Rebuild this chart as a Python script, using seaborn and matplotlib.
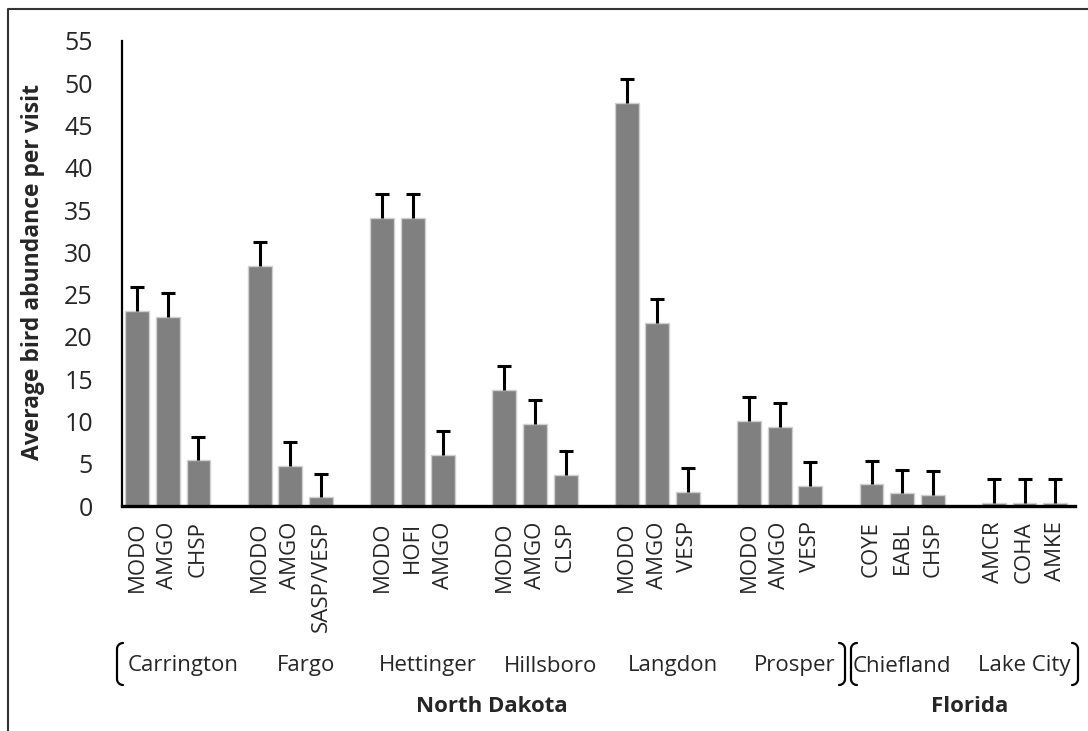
import numpy as np
import pandas as pd
import matplotlib
matplotlib.use("Agg")
import matplotlib.pyplot as plt
import seaborn as sns

# Data
sites = ["Carrington", "Fargo", "Hettinger", "Hillsboro", "Langdon", "Prosper",
         "Chiefland", "Lake City"]
states = ["North Dakota"] * 6 + ["Florida"] * 2
species = [["MODO", "AMGO", "CHSP"], ["MODO", "AMGO", "SASP/VESP"],
           ["MODO", "HOFI", "AMGO"], ["MODO", "AMGO", "CLSP"],
           ["MODO", "AMGO", "VESP"], ["MODO", "AMGO", "VESP"],
           ["COYE", "EABL", "CHSP"], ["AMCR", "COHA", "AMKE"]]
means = [[23.1, 22.4, 5.4], [28.4, 4.7, 1.1], [34.1, 34.1, 6.0],
         [13.7, 9.7, 3.7], [47.7, 21.7, 1.7], [10.1, 9.4, 2.4],
         [2.6, 1.5, 1.3], [0.4, 0.4, 0.4]]
errors = [[2.8, 2.8, 2.8], [2.8, 2.9, 2.7], [2.8, 2.8, 2.9],
          [2.9, 2.8, 2.8], [2.8, 2.8, 2.8], [2.8, 2.8, 2.8],
          [2.7, 2.8, 2.8], [2.8, 2.8, 2.8]]

# long table, one empty slot between sites
rows = []
for g, site in enumerate(sites):
    for j in range(3):
        rows.append({"site": site, "state": states[g], "species": species[g][j],
                     "pos": g * 4 + j, "mean": means[g][j], "err": errors[g][j]})
df = pd.DataFrame(rows)

sns.set_style("white")
plt.rcParams["font.family"] = ["Open Sans", "DejaVu Sans"]

W, H = 1088, 731
fig = plt.figure(figsize=(W / 100, H / 100), dpi=100)
ax = fig.add_axes([122 / W, 1 - 506 / H, (1075 - 122) / W, (506 - 41) / H])

sns.barplot(data=df, x="pos", y="mean", native_scale=True, color="#808080",
            saturation=1, width=0.78, errorbar=None, edgecolor="#d0d0d0",
            linewidth=1, ax=ax)

# upper error bars only
eb = ax.errorbar(df["pos"], df["mean"], yerr=[np.zeros(len(df)), df["err"]],
                 fmt="none", ecolor="black", elinewidth=2.2, capsize=5, capthick=2.2)
for cap in eb[1]:
    if np.allclose(cap.get_ydata(), df["mean"]):
        cap.set_visible(False)

ax.set_xlim(-0.5, 30.65)
ax.set_ylim(0, 55)
ax.set_yticks(range(0, 56, 5))
ax.tick_params(axis="y", length=0, pad=21, labelsize=18)
ax.set_xticks(df["pos"])
ax.set_xticklabels(df["species"], rotation=90, fontsize=16)
ax.tick_params(axis="x", length=0, pad=11)
ax.set_xlabel("")
ax.set_ylabel("")
for side in ["top", "right"]:
    ax.spines[side].set_visible(False)
ax.spines["left"].set_linewidth(1.6)
ax.spines["left"].set_color("black")
ax.spines["bottom"].set_linewidth(2.4)
ax.spines["bottom"].set_color("black")

fig.text(33 / W, 1 - 272 / H, "Average bird abundance per visit", rotation=90,
         ha="center", va="center", fontsize=16.5, fontweight="bold")

# site names under each group
trans = ax.get_xaxis_transform()
y_site = -(666 - 506) / (506 - 41)
for g, site in enumerate(sites):
    shift = 0.5 if states[g] == "North Dakota" else 0.0
    ax.text(g * 4 + 1 + shift, y_site, site, transform=trans, ha="center",
            va="center", fontsize=16, clip_on=False)

# state names
y_state = -(706 - 506) / (506 - 41)
ax.text(11.6, y_state, "North Dakota", transform=trans, ha="center", va="center",
        fontsize=16, fontweight="bold", clip_on=False)
ax.text(27.2, y_state, "Florida", transform=trans, ha="center", va="center",
        fontsize=16, fontweight="bold", clip_on=False)


# brackets around the site names
def bracket(xp, left=True, top=643, bottom=685, r=6):
    t = np.linspace(0, np.pi / 2, 10)
    s = 1 if left else -1
    xs = list(xp + s * r - s * r * np.sin(t))
    ys = list(top + r - r * np.cos(t))
    xs += list(xp + s * r - s * r * np.cos(t))
    ys += list(bottom - r + r * np.sin(t))
    xs = [x / W for x in xs]
    ys = [1 - y / H for y in ys]
    fig.add_artist(plt.Line2D(xs, ys, color="black", linewidth=1.6,
                              transform=fig.transFigure))


bracket(117, left=True)
bracket(845, left=False)
bracket(851, left=True)
bracket(1078, left=False)

# frame of the figure (top and left only)
fig.add_artist(plt.Line2D([8 / W, 8 / W, 1.0], [0.0, 1 - 9 / H, 1 - 9 / H],
                          color="#333333", linewidth=1.5, transform=fig.transFigure))

fig.savefig("out.png", dpi=100)
